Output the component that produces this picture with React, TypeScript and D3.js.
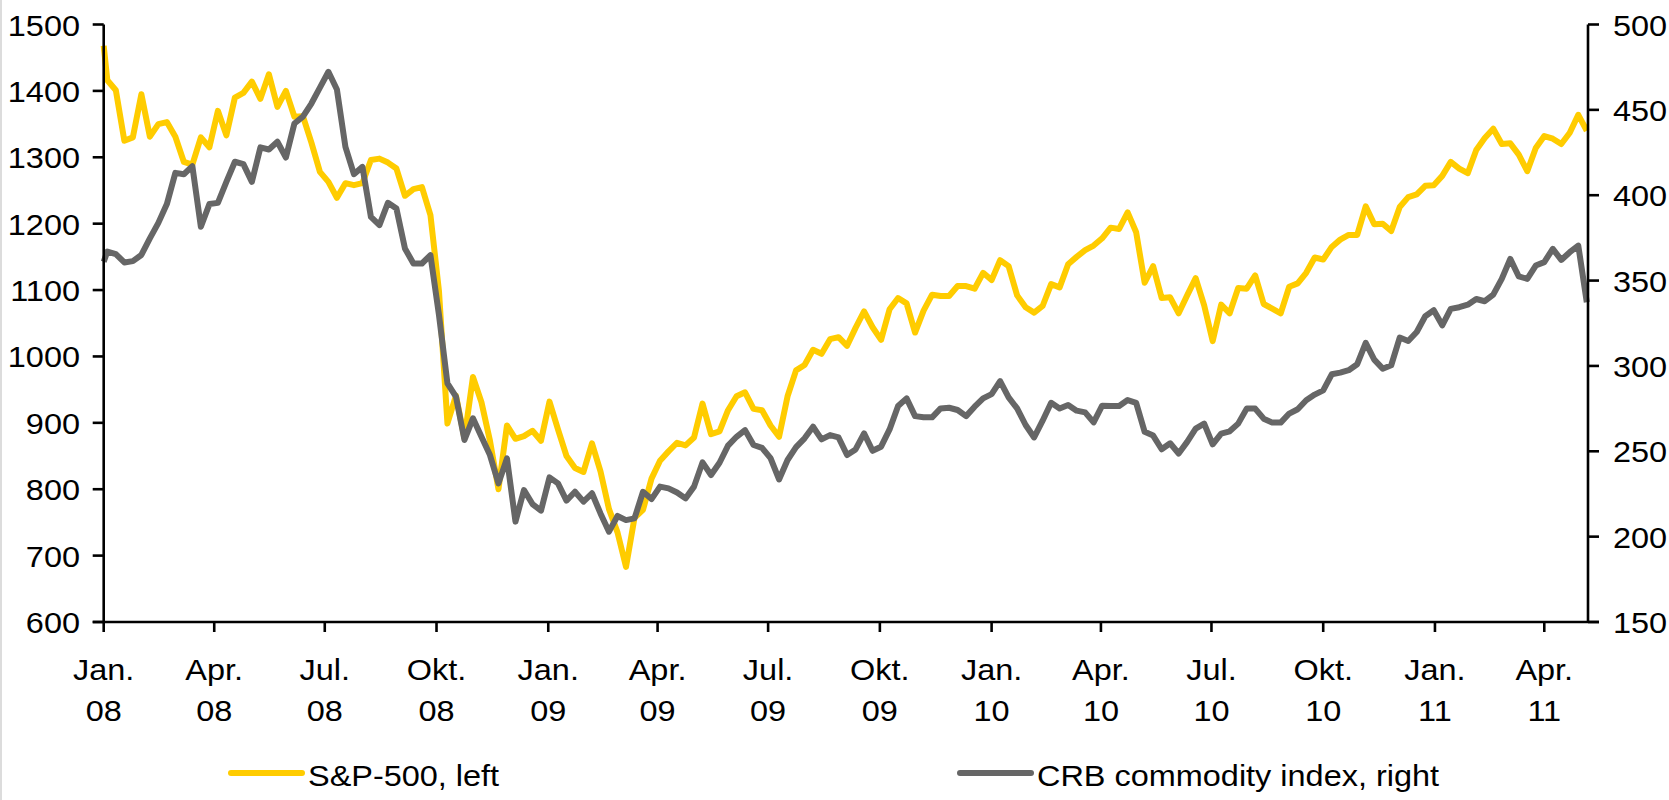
import { useMemo } from "react";
import * as d3 from "d3";

// weekly closes (Fridays), first point is the start of 2008
const spx = [
  1468, 1416, 1401, 1325, 1330, 1395, 1331, 1350, 1353, 1331, 1293, 1289, 1330, 1315, 1370, 1333,
  1390, 1397, 1414, 1388, 1425, 1376, 1400, 1361, 1362, 1322, 1278, 1263, 1239, 1261, 1258, 1261,
  1296, 1298, 1292, 1283, 1242, 1252, 1255, 1213, 1099, 899, 941, 877, 969, 931, 873, 800,
  896, 876, 880, 888, 873, 932, 890, 850, 832, 826, 869, 827, 770, 735, 683, 757,
  769, 816, 843, 857, 870, 866, 878, 929, 883, 887, 919, 940, 946, 921, 919, 896,
  879, 940, 979, 987, 1010, 1004, 1026, 1029, 1016, 1043, 1068, 1044, 1025, 1071, 1088, 1080,
  1036, 1069, 1093, 1091, 1091, 1106, 1106, 1102, 1126, 1115, 1145, 1136, 1092, 1074, 1066, 1076,
  1109, 1104, 1139, 1150, 1160, 1167, 1178, 1194, 1192, 1217, 1187, 1111, 1136, 1088, 1089, 1065,
  1092, 1118, 1077, 1023, 1078, 1065, 1103, 1102, 1122, 1079, 1072, 1065, 1105, 1110, 1126, 1149,
  1146, 1165, 1176, 1183, 1183, 1226, 1199, 1200, 1189, 1225, 1240, 1244, 1257, 1258, 1272, 1293,
  1283, 1276, 1311, 1329, 1343, 1320, 1321, 1304, 1279, 1314, 1332, 1328, 1320, 1337, 1364, 1340,
];

const crb = [
  361, 367, 365.5, 360.6, 361.4, 365, 374.7, 383.8, 394.8, 413.1, 412.3, 417, 381.5, 394.8, 395.5, 407.8,
  419.6, 418.2, 407.8, 428, 426.8, 431.3, 422.1, 442, 446, 453.7, 463, 472.3, 461.9, 428.3, 412.3, 416.6,
  387.3, 382.5, 395.6, 392.2, 368.8, 360, 360, 364.9, 330, 289.8, 282, 256.6, 269.3, 258.5, 247.8, 231.2,
  245.8, 208.8, 227.3, 219.1, 215.2, 234.7, 231.2, 221.1, 226.3, 220.5, 225.4, 213.6, 202.9, 212.1, 209.7, 210.7,
  226.3, 222, 229.3, 228.3, 225.9, 222.4, 229.3, 243.5, 236.1, 243.3, 253.3, 258.5, 262.4, 253.7, 252, 246,
  233.5, 244.9, 252.4, 257.6, 264.4, 257, 259.5, 258.1, 247.8, 251.1, 260.5, 250.3, 252.7, 262.8, 276.5, 281,
  270.6, 269.9, 269.9, 275.1, 275.5, 274.2, 270.6, 276.1, 281, 283.5, 291.1, 281.6, 275.1, 265.4, 258.1, 267.9,
  278.4, 275.1, 277.1, 273.8, 272.8, 266.9, 276.7, 276.5, 276.5, 280, 278.4, 261.4, 259.2, 251.2, 254.7, 248.7,
  255.5, 263.3, 266.2, 254.1, 260.4, 261.7, 266.2, 275, 275, 269.1, 266.8, 266.8, 272.1, 274.6, 279.9, 283.2,
  285.7, 295.1, 296.1, 297.5, 301, 313.5, 303.7, 298.4, 300.4, 316.6, 314.6, 319.9, 329.1, 332.6, 323.8, 333.4,
  334.4, 335.9, 339.2, 337.9, 341.8, 351, 362.7, 352.4, 351, 358.8, 360.8, 368.6, 362.1, 366.6, 370.5, 337.3,
];

const monthNames = ["Jan.", "Apr.", "Jul.", "Okt."];
const leftTicks = [600, 700, 800, 900, 1000, 1100, 1200, 1300, 1400, 1500];
const rightTicks = [150, 200, 250, 300, 350, 400, 450, 500];
const legendItems = [
  { name: "S&P-500, left", color: "#ffcc00" },
  { name: "CRB commodity index, right", color: "#666666" },
];

const W = 1669;
const H = 800;
const left = 103.7;
const right = 1588;
const top = 24.5;
const bottom = 622;
const font = "'Liberation Sans', Arial, sans-serif";
const fs = 29.5;
const sx = 1.1; // text in the original is a bit wider than plain Arial

function Label({ x, y, anchor, children }) {
  return (
    <text
      transform={`translate(${x},${y}) scale(${sx},1)`}
      textAnchor={anchor}
      fontFamily={font}
      fontSize={fs}
      fill="#000"
    >
      {children}
    </text>
  );
}

export default function App() {
  const dates = useMemo(
    () => [new Date(2008, 0, 1), ...d3.timeFriday.range(new Date(2008, 0, 4), new Date(2011, 4, 7))],
    []
  );

  let x = d3.scaleTime().domain([new Date(2008, 0, 1), new Date(2011, 4, 7)]).range([left, right]);
  let yL = d3.scaleLinear().domain([600, 1500]).range([bottom, top]);
  let yR = d3.scaleLinear().domain([150, 500]).range([bottom, top]);

  const lineL = d3
    .line<number>()
    .x((d, i) => x(dates[i]))
    .y((d) => yL(d));
  const lineR = d3
    .line<number>()
    .x((d, i) => x(dates[i]))
    .y((d) => yR(d));

  const xTicks = d3.timeMonth.every(3).range(new Date(2008, 0, 1), new Date(2011, 4, 2));

  return (
    <div style={{ position: "absolute", left: 0, top: 0, width: W, height: H, background: "#fff" }}>
      <svg width={W} height={H}>
        <rect x={0} y={0} width={W} height={H} fill="#fff" />
        <line x1={1} x2={1} y1={0} y2={H} stroke="#dcdcdc" strokeWidth={2} />

        <path d={lineL(spx)} fill="none" stroke={legendItems[0].color} strokeWidth={6} strokeLinejoin="round" />
        <path d={lineR(crb)} fill="none" stroke={legendItems[1].color} strokeWidth={6} strokeLinejoin="round" />

        {/* axes */}
        <g stroke="#000" strokeWidth={2.6}>
          <line x1={left} x2={left} y1={top} y2={bottom} />
          <line x1={right} x2={right} y1={top} y2={bottom} />
          <line x1={left - 11} x2={right + 11} y1={bottom} y2={bottom} />
          {leftTicks.map((t) => (
            <line key={"l" + t} x1={left - 11} x2={left} y1={yL(t)} y2={yL(t)} />
          ))}
          {rightTicks.map((t) => (
            <line key={"r" + t} x1={right} x2={right + 11} y1={yR(t)} y2={yR(t)} />
          ))}
          {xTicks.map((d, i) => (
            <line key={"x" + i} x1={x(d)} x2={x(d)} y1={bottom} y2={bottom + 10} />
          ))}
        </g>

        {leftTicks.map((t) => (
          <Label key={"ll" + t} x={80} y={yL(t) + 11} anchor="end">
            {t}
          </Label>
        ))}
        {rightTicks.map((t) => (
          <Label key={"rl" + t} x={1613} y={yR(t) + 11} anchor="start">
            {t}
          </Label>
        ))}
        {xTicks.map((d, i) => (
          <g key={"xl" + i}>
            <Label x={x(d)} y={680} anchor="middle">
              {monthNames[Math.floor(d.getMonth() / 3)]}
            </Label>
            <Label x={x(d)} y={720.5} anchor="middle">
              {String(d.getFullYear() % 100).padStart(2, "0")}
            </Label>
          </g>
        ))}

        {/* legend */}
        {legendItems.map((it, i) => {
          const lx = i === 0 ? 231 : 960;
          return (
            <g key={it.name}>
              <line x1={lx} x2={lx + 71} y1={773} y2={773} stroke={it.color} strokeWidth={6} strokeLinecap="round" />
              <Label x={lx + 77} y={786} anchor="start">
                {it.name}
              </Label>
            </g>
          );
        })}
      </svg>
    </div>
  );
}
